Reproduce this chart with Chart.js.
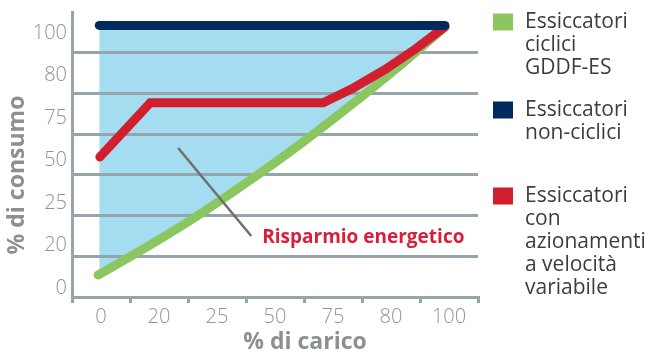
<!DOCTYPE html>
<html><head><meta charset="utf-8">
<script src="https://cdn.jsdelivr.net/npm/chart.js@4/dist/chart.umd.min.js"></script>
<style>html,body{margin:0;padding:0;background:#fff}#wrap{width:646px;height:352px;position:relative}</style>
</head><body><div id="wrap"><canvas id="c"></canvas></div>
<script>
// ---- data (positions in label-slot units: 0 = first label, 6 = last label) ----
const xLabels = ['0', '20', '25', '50', '75', '80', '100'];
const yLabels = ['0', '20', '25', '50', '75', '80', '100'];
const greenName = 'Essiccatori\nciclici\nGDDF-ES';
const navyName = 'Essiccatori\nnon-ciclici';
const redName = 'Essiccatori\ncon\nazionamenti\na velocità\nvariabile';
const greenX = [-0.05, 0.85, 1.71, 2.57, 3.43, 4.29, 5.16, 5.93];
const greenY = [0.04, 0.78, 1.54, 2.37, 3.25, 4.19, 5.19, 6.13];
const navyX = [-0.03, 5.93];
const navyY = [6.17, 6.17];
const redX = [-0.02, 0.85, 3.83, 4.36, 4.90, 5.43, 5.93];
const redY = [2.94, 4.27, 4.27, 4.64, 5.09, 5.60, 6.14];
const annotationText = 'Risparmio energetico';
const xTitle = '% di carico';
const yTitle = '% di consumo';

// ---- styles ----
const GREEN = '#8bc660', NAVY = '#002a5c', RED = '#d21f30', BLUE = '#a5ddf0';
const GRID = '#98a4ac', TICK = '#8f9499', TITLE = '#8b9095', LEG = '#3c3c3c';
const tickFont = {family: 'Open Sans', size: 20, weight: '300'};

const pts = (xs, ys) => xs.map((x, i) => ({x, y: ys[i]}));

const decor = {
  id: 'decor',
  afterDraw(chart) {
    const ctx = chart.ctx, sx = chart.scales.x, sy = chart.scales.y;
    ctx.save();
    // annotation pointer
    ctx.strokeStyle = '#6e6f71'; ctx.lineWidth = 2.5; ctx.lineCap = 'butt';
    ctx.beginPath();
    ctx.moveTo(sx.getPixelForValue(1.33), sy.getPixelForValue(3.16));
    ctx.lineTo(sx.getPixelForValue(2.59), sy.getPixelForValue(1.0));
    ctx.stroke();
    ctx.fillStyle = '#d7203a';
    ctx.font = 'bold 19px "Open Sans"';
    ctx.textAlign = 'left'; ctx.textBaseline = 'alphabetic';
    ctx.fillText(annotationText, sx.getPixelForValue(2.78), sy.getPixelForValue(0.83));
    // axis titles
    ctx.fillStyle = TITLE;
    ctx.font = 'bold 23px "Open Sans"';
    ctx.textAlign = 'center'; ctx.textBaseline = 'middle';
    ctx.fillText(xTitle, 305, 342);
    ctx.translate(17, 175); ctx.rotate(-Math.PI / 2);
    ctx.fillText(yTitle, 0, 0);
    ctx.restore();
    // legend (order: green, navy, red)
    ctx.save();
    const order = [1, 0, 2];
    const centers = [22, 110, 196];
    order.forEach((di, i) => {
      const ds = chart.data.datasets[di];
      const cy = centers[i];
      ctx.fillStyle = ds.borderColor;
      ctx.fillRect(493, cy - 8.5, 20, 17);
      ctx.fillStyle = LEG;
      ctx.font = '21px "Open Sans"';
      ctx.textAlign = 'left'; ctx.textBaseline = 'middle';
      ds.label.split('\n').forEach((line, k) => ctx.fillText(line, 525, cy + k * 23));
    });
    ctx.restore();
  }
};

new Chart(document.getElementById('c'), {
  type: 'line',
  data: {
    datasets: [
      {label: navyName, data: pts(navyX, navyY), borderColor: NAVY, backgroundColor: BLUE,
        borderWidth: 9, pointRadius: 0, borderCapStyle: 'round', fill: 1, order: 1},
      {label: greenName, data: pts(greenX, greenY), borderColor: GREEN, backgroundColor: GREEN,
        borderWidth: 9, pointRadius: 0, cubicInterpolationMode: 'monotone', borderCapStyle: 'round', fill: false, order: 3},
      {label: redName, data: pts(redX, redY), borderColor: RED, backgroundColor: RED,
        borderWidth: 9, pointRadius: 0, tension: 0, borderCapStyle: 'round', borderJoinStyle: 'miter', fill: false, order: 2}
    ]
  },
  options: {
    responsive: true, maintainAspectRatio: false, animation: false, events: [],
    layout: {padding: {top: 12, right: 168, bottom: 0, left: 0}},
    plugins: {legend: {display: false}, tooltip: {enabled: false}, filler: {drawTime: 'beforeDraw'}},
    scales: {
      x: {
        type: 'linear', min: -0.5, max: 6.5, position: 'bottom',
        afterBuildTicks: s => { s.ticks = [-0.5, 0.5, 1.5, 2.5, 3.5, 4.5, 5.5, 6.5].map(v => ({value: v})); },
        afterFit: s => { s.height = 55; s.paddingLeft = 0; s.paddingRight = 0; },
        grid: {drawOnChartArea: false, drawTicks: true, tickLength: 6, color: GRID, lineWidth: 3},
        border: {display: true, color: GRID, width: 3},
        ticks: {autoSkip: false, maxRotation: 0, labelOffset: 29, padding: 2, color: TICK, font: tickFont,
          callback: (v, i) => (xLabels[i] !== undefined ? xLabels[i] : '')}
      },
      y: {
        type: 'linear', min: -0.5, max: 6.5, position: 'left', weight: 0,
        afterBuildTicks: s => { s.ticks = [0.5, 1.5, 2.5, 3.5, 4.5, 5.5].map(v => ({value: v})); },
        afterFit: s => { s.width = 0; s.paddingTop = 0; s.paddingBottom = 0; },
        grid: {drawTicks: false, color: GRID, lineWidth: 3},
        border: {display: true, color: GRID, width: 3},
        ticks: {display: false}
      },
      y2: {
        type: 'linear', min: -0.212, max: 6.494, position: 'left', weight: 1,
        afterBuildTicks: s => { s.ticks = yLabels.map((_, i) => ({value: i})); },
        afterFit: s => { s.width = 72; s.paddingTop = 0; s.paddingBottom = 0; },
        grid: {display: false, drawTicks: false},
        border: {display: false},
        ticks: {padding: 5, color: TICK, font: tickFont, callback: v => yLabels[v]}
      }
    }
  },
  plugins: [decor]
});
</script>
</body></html>
